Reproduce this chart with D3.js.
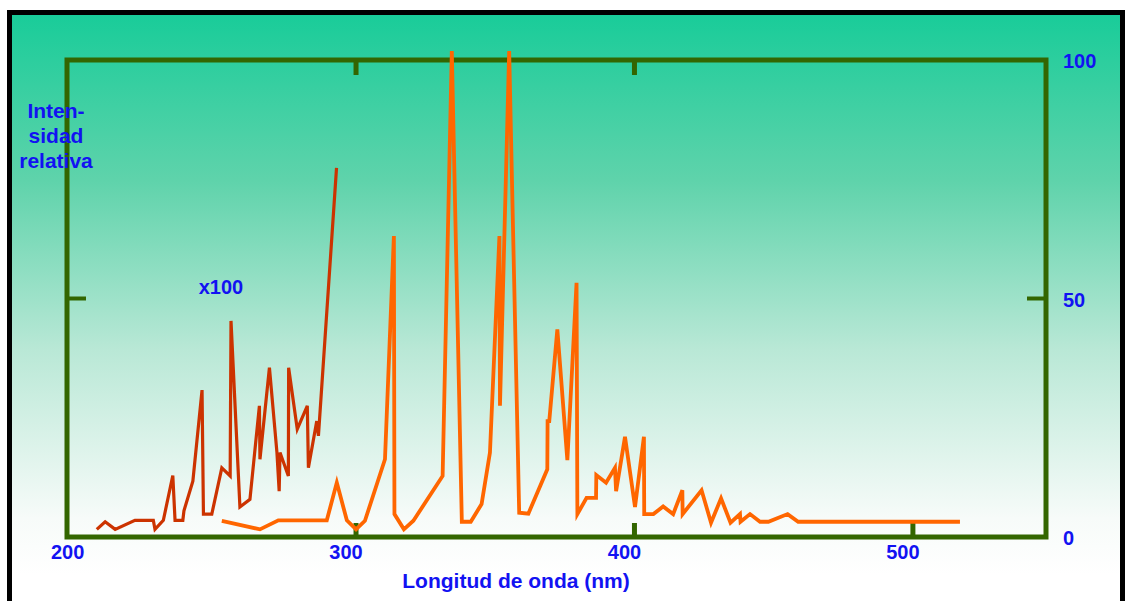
<!DOCTYPE html>
<html>
<head>
<meta charset="utf-8">
<script src="https://cdn.jsdelivr.net/npm/d3@7"></script>
<style>
    body { margin: 0; background: #ffffff; }
    text { font-family: "Liberation Sans", Arial, sans-serif; font-weight: bold; fill: #1212f2; }
</style>
</head>
<body>
<svg id="chart"></svg>
<script>
// dark red series (x100), wavelength nm / relative intensity
var redWave = [206.9, 209.9, 213.5, 220.6, 227.2, 227.8, 230.8, 234.2, 235, 237.8, 238.2, 241.4, 244.7, 245.2,
    248.2, 251.8, 254.8, 255.1, 258.3, 261.9, 265.3, 265.5, 268.9, 271.6, 272.4, 272.7, 275.7, 275.8,
    278.9, 282.5, 282.9, 285.9, 286.5, 293];
var redValue = [1.6, 3.2, 1.6, 3.5, 3.5, 1.6, 3.5, 12.9, 3.5, 3.5, 5.5, 11.7, 30.8, 4.8,
    4.8, 14.5, 12.8, 45.3, 6.3, 7.9, 27.5, 16.3, 35.5, 17.7, 9.6, 17.7, 12.8, 35.5,
    22.6, 27.5, 14.5, 24.3, 21.2, 77.4];

// orange series
var orangeWave = [251.8, 265.5, 272.1, 289.5, 293.1, 296.7, 300, 303.2, 310.4, 313.6, 313.8, 317.2, 320.6,
    331.1, 334.4, 338, 341.2, 345.1, 348.1, 351.5, 351.7, 355, 358.6, 361.9, 368.7, 368.8, 369.4,
    372.3, 375.9, 379.2, 379.5, 382.8, 386.2, 386.3, 389.8, 393, 393.4, 396.6, 400.2, 403.4, 403.5,
    406.8, 410.3, 413.9, 417.2, 417.3, 424.1, 427.5, 431.1, 434.5, 437.9, 438.1, 441.5, 445.1,
    448.1, 455, 458.8, 516.9];
var orangeValue = [3.4, 1.6, 3.5, 3.5, 11.4, 3.5, 1.6, 3.4, 16.3, 63.1, 4.8, 1.6, 3.4,
    12.8, 101.9, 3.2, 3.2, 6.9, 17.7, 63.1, 27.5, 101.9, 5.1, 4.9, 14.2, 24.3, 24.3,
    43.5, 16.1, 53.3, 4.8, 8.2, 8.2, 13, 11.4, 14.5, 9.6, 21, 6.3, 21, 4.8,
    4.8, 6.4, 4.8, 9.8, 4.8, 9.8, 3, 8.1, 3, 4.8, 3.2, 4.8, 3.2,
    3.2, 4.8, 3.2, 3.2];

var bottomTicks = [300, 400, 500],
    topTicks = [300, 400],
    xLabels = [200, 300, 400, 500],
    yLabels = [0, 50, 100],
    yTitle = ["Inten-", "sidad", "relativa"];

var width = 1126,
    height = 601;

var margin = {top: 60, right: 80, bottom: 64, left: 67},
    innerwidth = width - margin.left - margin.right,
    innerheight = height - margin.top - margin.bottom;

var svg = d3.select("#chart")
    .attr("width", width)
    .attr("height", height);

// background gradient
var grad = svg.append("defs").append("linearGradient")
    .attr("id", "bg")
    .attr("gradientUnits", "userSpaceOnUse")
    .attr("x1", 0).attr("y1", 12)
    .attr("x2", 0).attr("y2", 575);
grad.append("stop").attr("offset", 0).attr("stop-color", "#18cc99");
grad.append("stop").attr("offset", 0.3).attr("stop-color", "#5fd3ab");
grad.append("stop").attr("offset", 0.6).attr("stop-color", "#b9e8d6");
grad.append("stop").attr("offset", 0.9).attr("stop-color", "#f7fbf9");
grad.append("stop").attr("offset", 1).attr("stop-color", "#ffffff");

svg.append("rect")
    .attr("x", 9.5).attr("y", 12.5)
    .attr("width", 1113).attr("height", 600)
    .attr("fill", "url(#bg)")
    .attr("stroke", "#000")
    .attr("stroke-width", 5);

var g = svg.append("g")
    .attr("transform", "translate(" + margin.left + "," + margin.top + ")");

var x = d3.scaleLinear()
    .domain([196.2, 547.8])
    .range([0, innerwidth]);

var y = d3.scaleLinear()
    .domain([0, 100])
    .range([innerheight, 0]);

var green = "#336600";

// frame
g.append("rect")
    .attr("width", innerwidth)
    .attr("height", innerheight)
    .attr("fill", "none")
    .attr("stroke", green)
    .attr("stroke-width", 5);

// ticks
g.selectAll(".btick").data(bottomTicks).enter().append("line")
    .attr("x1", x).attr("x2", x)
    .attr("y1", innerheight).attr("y2", innerheight - 14)
    .attr("stroke", green).attr("stroke-width", 5);

g.selectAll(".ttick").data(topTicks).enter().append("line")
    .attr("x1", x).attr("x2", x)
    .attr("y1", 0).attr("y2", 15)
    .attr("stroke", green).attr("stroke-width", 5);

g.append("line")
    .attr("x1", 0).attr("x2", 19)
    .attr("y1", y(50)).attr("y2", y(50))
    .attr("stroke", green).attr("stroke-width", 4);

g.append("line")
    .attr("x1", innerwidth - 19).attr("x2", innerwidth)
    .attr("y1", y(50)).attr("y2", y(50))
    .attr("stroke", green).attr("stroke-width", 4);

// series
var line = d3.line()
    .x(function(d) { return x(d[0]); })
    .y(function(d) { return y(d[1]); });

g.append("path")
    .datum(d3.zip(redWave, redValue))
    .attr("d", line)
    .attr("fill", "none")
    .attr("stroke", "#cc3300")
    .attr("stroke-width", 3.2)
    .attr("stroke-linejoin", "miter");

g.append("path")
    .datum(d3.zip(orangeWave, orangeValue))
    .attr("d", line)
    .attr("fill", "none")
    .attr("stroke", "#ff6600")
    .attr("stroke-width", 3.8)
    .attr("stroke-linejoin", "miter");

// labels
g.selectAll(".xlab").data(xLabels).enter().append("text")
    .attr("x", function(d) { return x(d) - 10; })
    .attr("y", innerheight + 22)
    .attr("text-anchor", "middle")
    .style("font-size", "20px")
    .text(function(d) { return d; });

g.selectAll(".ylab").data(yLabels).enter().append("text")
    .attr("x", innerwidth + 17)
    .attr("y", function(d) { return y(d) + 8; })
    .style("font-size", "20px")
    .text(function(d) { return d; });

g.append("text")
    .attr("x", x(300) + 160)
    .attr("y", innerheight + 51)
    .attr("text-anchor", "middle")
    .style("font-size", "21px")
    .text("Longitud de onda (nm)");

svg.selectAll(".ytitle").data(yTitle).enter().append("text")
    .attr("x", 56)
    .attr("y", function(d, i) { return 118 + i * 25; })
    .attr("text-anchor", "middle")
    .style("font-size", "21px")
    .text(function(d) { return d; });

g.append("text")
    .attr("x", x(251.5))
    .attr("y", y(51))
    .attr("text-anchor", "middle")
    .style("font-size", "20px")
    .text("x100");
</script>
</body>
</html>
